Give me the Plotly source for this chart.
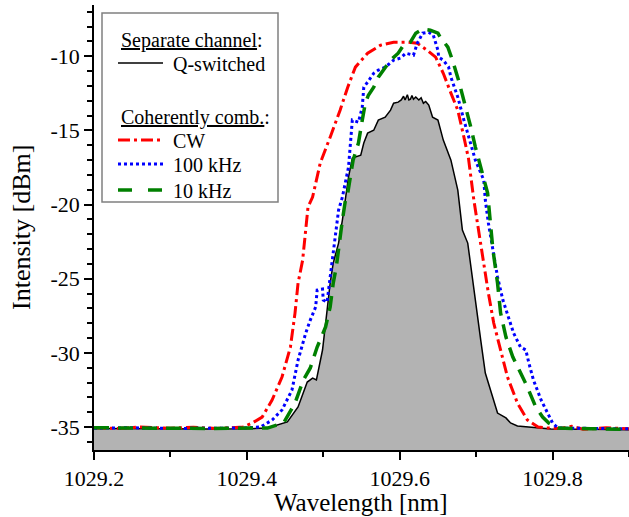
import plotly.graph_objects as go

# Q-switched (separate channel)
qs_wl = [1029.20, 1029.25, 1029.30, 1029.35, 1029.40, 1029.427, 1029.453, 1029.467, 1029.479, 1029.486,
         1029.491, 1029.499, 1029.505, 1029.509, 1029.513, 1029.520, 1029.525, 1029.533, 1029.538, 1029.549,
         1029.553, 1029.558, 1029.566, 1029.572, 1029.581, 1029.588, 1029.592, 1029.598, 1029.602, 1029.605,
         1029.607, 1029.610, 1029.612, 1029.614, 1029.616, 1029.618, 1029.621, 1029.625, 1029.628, 1029.631,
         1029.634, 1029.638, 1029.643, 1029.650, 1029.657, 1029.667, 1029.676, 1029.682, 1029.689, 1029.693,
         1029.699, 1029.706, 1029.712, 1029.722, 1029.728, 1029.739, 1029.745, 1029.754, 1029.771, 1029.785,
         1029.798, 1029.85, 1029.90]
qs_db = [-35.10, -35.12, -35.10, -35.13, -35.12, -35.07, -34.66, -33.65, -31.97, -31.70,
         -31.83, -29.81, -27.12, -25.30, -23.95, -22.60, -21.05, -18.15, -16.87, -16.67,
         -15.86, -15.19, -14.99, -14.31, -14.11, -13.64, -13.17, -13.10, -12.95, -12.70,
         -12.95, -12.60, -12.95, -12.90, -12.65, -12.90, -12.75, -12.95, -12.80, -13.17,
         -13.05, -13.30, -14.11, -14.31, -15.66, -17.01, -19.03, -21.72, -22.60, -24.22,
         -26.44, -29.14, -31.36, -32.98, -34.06, -34.39, -34.73, -34.93, -35.00, -35.07,
         -35.13, -35.15, -35.18]

# CW (coherently combined)
cw_wl = [1029.20, 1029.23, 1029.26, 1029.30, 1029.33, 1029.36, 1029.395, 1029.407, 1029.420, 1029.433,
         1029.446, 1029.457, 1029.463, 1029.467, 1029.473, 1029.477, 1029.480, 1029.486, 1029.496, 1029.509,
         1029.522, 1029.532, 1029.542, 1029.558, 1029.575, 1029.592, 1029.610, 1029.623, 1029.636, 1029.647,
         1029.657, 1029.667, 1029.676, 1029.684, 1029.690, 1029.697, 1029.703, 1029.710, 1029.716, 1029.723,
         1029.732, 1029.741, 1029.754, 1029.767, 1029.781, 1029.794, 1029.81, 1029.825, 1029.84, 1029.87,
         1029.90]
cw_db = [-35.05, -35.10, -35.00, -35.08, -35.02, -35.10, -35.00, -34.73, -34.33, -33.18,
         -31.63, -29.61, -27.32, -25.30, -23.75, -21.93, -20.18, -19.50, -17.21, -15.46,
         -13.64, -12.09, -10.74, -9.80, -9.26, -9.06, -9.06, -9.13, -9.60, -10.07,
         -11.15, -12.49, -13.64, -15.46, -16.90, -19.70, -21.72, -23.75, -25.97, -27.99,
         -29.81, -31.63, -33.38, -34.53, -35.00, -35.07, -35.10, -34.95, -35.15, -35.05,
         -35.12]

# 100 kHz (coherently combined)
k100_wl = [1029.20, 1029.25, 1029.30, 1029.35, 1029.394, 1029.418, 1029.433, 1029.446, 1029.459, 1029.467,
           1029.477, 1029.483, 1029.490, 1029.492, 1029.499, 1029.500, 1029.505, 1029.508, 1029.512, 1029.516,
           1029.520, 1029.525, 1029.533, 1029.538, 1029.546, 1029.551, 1029.553, 1029.558, 1029.566, 1029.572,
           1029.581, 1029.592, 1029.601, 1029.608, 1029.618, 1029.623, 1029.630, 1029.638, 1029.644, 1029.650,
           1029.651, 1029.657, 1029.664, 1029.667, 1029.676, 1029.684, 1029.690, 1029.699, 1029.710, 1029.712,
           1029.716, 1029.722, 1029.728, 1029.735, 1029.743, 1029.749, 1029.758, 1029.765, 1029.769, 1029.775,
           1029.785, 1029.794, 1029.800, 1029.807, 1029.85, 1029.90]
k100_db = [-35.08, -35.05, -35.10, -35.06, -35.07, -35.00, -34.53, -33.85, -32.51, -30.49,
           -28.67, -27.79, -26.91, -25.77, -25.70, -26.44, -26.58, -25.30, -23.54, -21.93,
           -20.38, -19.50, -17.48, -14.31, -14.45, -13.44, -12.09, -11.75, -11.15, -10.94,
           -10.74, -10.27, -10.13, -9.80, -9.93, -9.13, -8.45, -8.38, -8.59, -9.60,
           -10.07, -10.27, -10.74, -11.42, -12.76, -14.31, -15.46, -17.01, -18.36, -19.70,
           -21.25, -23.07, -24.89, -26.44, -27.79, -28.67, -29.61, -29.81, -30.69, -31.83,
           -33.18, -34.06, -34.73, -35.07, -35.10, -35.12]

# 10 kHz (coherently combined)
k10_wl = [1029.20, 1029.25, 1029.30, 1029.35, 1029.398, 1029.427, 1029.448, 1029.463, 1029.474, 1029.483,
          1029.492, 1029.503, 1029.509, 1029.513, 1029.517, 1029.520, 1029.525, 1029.529, 1029.532, 1029.539,
          1029.546, 1029.551, 1029.555, 1029.559, 1029.566, 1029.572, 1029.581, 1029.588, 1029.598, 1029.605,
          1029.614, 1029.621, 1029.630, 1029.640, 1029.650, 1029.653, 1029.663, 1029.669, 1029.677, 1029.684,
          1029.693, 1029.699, 1029.706, 1029.715, 1029.722, 1029.728, 1029.732, 1029.739, 1029.748, 1029.758,
          1029.767, 1029.778, 1029.787, 1029.795, 1029.807, 1029.85, 1029.90]
k10_db = [-35.05, -35.08, -35.06, -35.10, -35.07, -35.07, -34.73, -33.38, -31.83, -31.02,
          -29.61, -28.26, -26.91, -25.30, -24.22, -22.87, -21.05, -19.70, -19.23, -17.01,
          -15.86, -14.31, -13.17, -12.63, -12.09, -11.42, -10.74, -10.27, -9.80, -9.26,
          -9.06, -8.45, -8.18, -8.25, -8.45, -8.72, -9.39, -10.27, -11.62, -12.97,
          -14.78, -16.13, -17.48, -19.23, -23.07, -25.30, -27.32, -28.94, -30.28, -31.36,
          -32.30, -33.65, -34.33, -34.73, -35.07, -35.12, -35.15]

x_ticks = [1029.2, 1029.4, 1029.6, 1029.8]
y_ticks = [-35, -30, -25, -20, -15, -10]

FONT = "Liberation Serif, Times New Roman, serif"
BASE = -40
W, H = 629, 517
ML, MR, MT, MB = 94, 0, 5, 67
PW, PH = W - ML - MR, H - MT - MB


def px_x(p):
    return (p - ML) / PW


def px_y(p):
    return 1 - (p - MT) / PH


RED = dict(color="#ff0000", width=3, dash="12px,4px,3px,4px")
BLUE = dict(color="#0000ff", width=3, dash="3px,3px")
GREEN = dict(color="#008000", width=3.5, dash="15px,9px")
BLACK = dict(color="black", width=1.5)

fig = go.Figure()

fig.add_trace(go.Scatter(
    x=qs_wl + [qs_wl[-1], qs_wl[0]], y=qs_db + [BASE, BASE],
    fill="toself", fillcolor="#b3b3b3", mode="lines",
    line=dict(width=0, color="#b3b3b3"), showlegend=False, hoverinfo="skip"))
fig.add_trace(go.Scatter(x=qs_wl, y=qs_db, mode="lines", name="Q-switched", line=BLACK, showlegend=False))
fig.add_trace(go.Scatter(x=cw_wl, y=cw_db, mode="lines", name="CW", line=RED, showlegend=False))
fig.add_trace(go.Scatter(x=k100_wl, y=k100_db, mode="lines", name="100 kHz", line=BLUE, showlegend=False))
fig.add_trace(go.Scatter(x=k10_wl, y=k10_db, mode="lines", name="10 kHz", line=GREEN, showlegend=False))

# ---- legend (drawn as frame + samples + text) ----
fig.add_shape(type="rect", xref="paper", yref="paper",
              x0=px_x(102), x1=px_x(278), y0=px_y(202), y1=px_y(13),
              line=dict(color="#808080", width=1.5), fillcolor="white", layer="above")

legend_items = [
    ("<u>Separate channel</u>:", None, 40),
    ("Q-switched", dict(color="black", width=1.5), 63),
    ("<u>Coherently comb.</u>:", None, 116),
    ("CW", dict(color="#ff0000", width=3, dash="12px,4px,3px,4px"), 140),
    ("100 kHz", dict(color="#0000ff", width=3, dash="3px,3px"), 164),
    ("10 kHz", dict(color="#008000", width=3.5, dash="14px,16px"), 190),
]
for text, line, ypx in legend_items:
    if line is None:
        fig.add_annotation(x=px_x(119), y=px_y(ypx + 1), xref="paper", yref="paper",
                           text=text, showarrow=False, xanchor="left", yanchor="middle",
                           font=dict(family=FONT, size=20, color="black"))
    else:
        fig.add_shape(type="line", xref="paper", yref="paper",
                      x0=px_x(118), x1=px_x(163), y0=px_y(ypx), y1=px_y(ypx),
                      line=line, layer="above")
        fig.add_annotation(x=px_x(171), y=px_y(ypx + 1), xref="paper", yref="paper",
                           text=text, showarrow=False, xanchor="left", yanchor="middle",
                           font=dict(family=FONT, size=20, color="black"))

# axis titles
fig.add_annotation(x=px_x(361), y=px_y(488), xref="paper", yref="paper",
                   text="Wavelength [nm]", showarrow=False, xanchor="center", yanchor="top",
                   borderpad=0, font=dict(family=FONT, size=25, color="black"))
fig.add_annotation(x=px_x(21), y=px_y(228), xref="paper", yref="paper",
                   text="Intensity [dBm]", showarrow=False, xanchor="center", yanchor="middle",
                   textangle=-90, font=dict(family=FONT, size=26, color="black"))

fig.update_layout(
    width=W, height=H,
    margin=dict(l=ML, r=MR, t=MT, b=MB),
    paper_bgcolor="white", plot_bgcolor="white",
    font=dict(family=FONT, color="black", size=22),
    showlegend=False,
    xaxis=dict(
        range=[1029.2, 1029.9], tickvals=x_ticks, ticktext=[f"{v:.1f}" for v in x_ticks],
        ticks="outside", ticklen=8, tickwidth=1.5, tickcolor="black",
        showline=True, linecolor="black", linewidth=1.5,
        showgrid=False, zeroline=False, automargin=False,
        minor=dict(dtick=0.1, tick0=1029.2, ticks="outside", ticklen=5, tickwidth=1.5, tickcolor="black", showgrid=False),
        tickfont=dict(family=FONT, size=22),
    ),
    yaxis=dict(
        range=[-36.55, -6.55], tickvals=y_ticks, ticktext=[str(v) for v in y_ticks],
        ticks="outside", ticklen=8, tickwidth=1.5, tickcolor="black",
        showline=True, linecolor="black", linewidth=1.5,
        showgrid=False, zeroline=False, automargin=False,
        minor=dict(dtick=1, tick0=-35, ticks="outside", ticklen=5, tickwidth=1.5, tickcolor="black", showgrid=False),
        tickfont=dict(family=FONT, size=22),
    ),
)

fig.write_html("out.html", config={"displayModeBar": False},
               post_script="document.body.style.margin='0px';")
